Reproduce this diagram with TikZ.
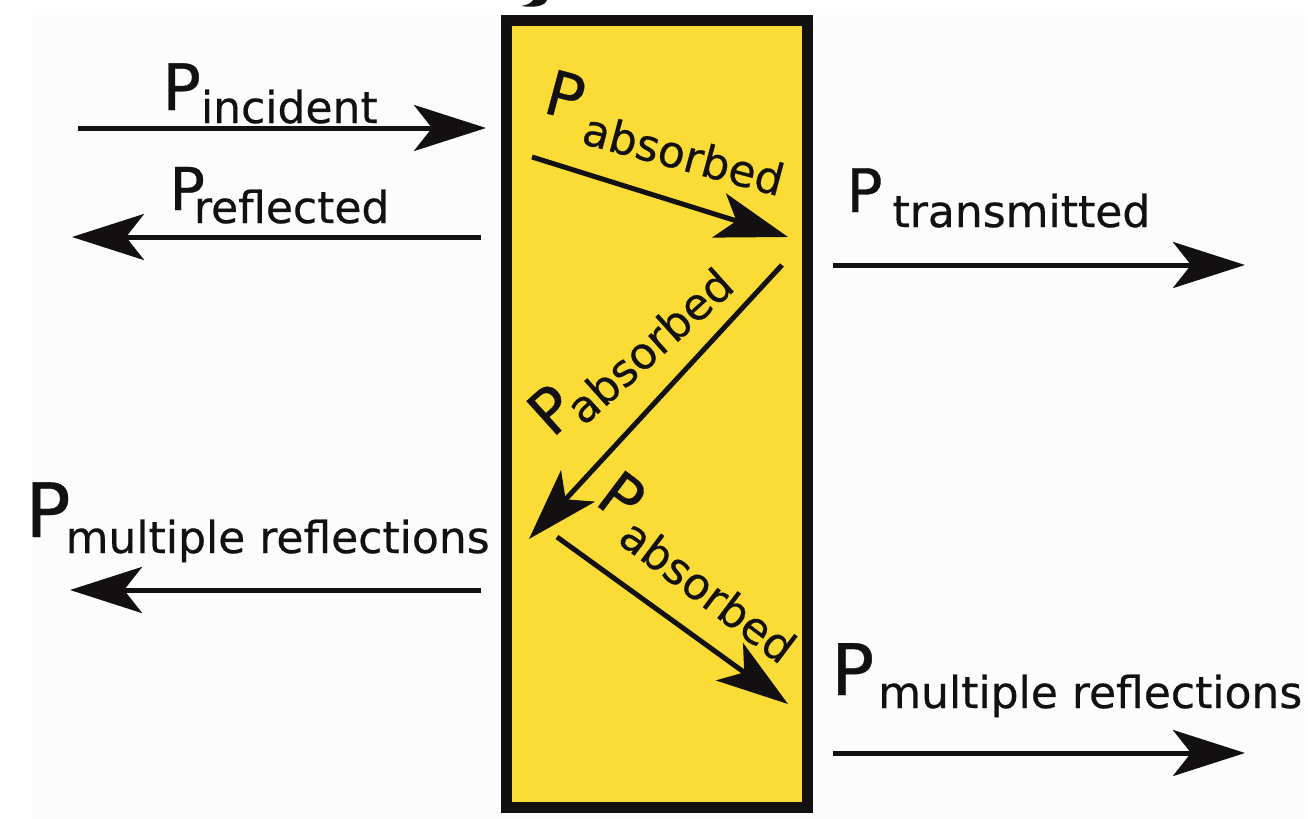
\documentclass[tikz,border=0pt]{standalone}
\usepackage{fontspec}
\setmainfont{DejaVu Sans}[FakeBold=0.5]
\usetikzlibrary{arrows.meta}
\definecolor{slab}{HTML}{FBDB35}
\definecolor{ink}{HTML}{121010}
\definecolor{panel}{HTML}{FCFCFC}
\newcommand{\plab}[4]{{\fontsize{#1}{#1}\selectfont P}\kern#2\raisebox{-#3}{\fontsize{22pt}{22pt}\selectfont #4}}
\begin{document}
\begin{tikzpicture}[x=0.5pt,y=-0.5pt,
  lab/.style={inner sep=0pt, anchor=base west, text=ink},
  arr/.style={draw=ink, line width=2.5pt, -{Stealth[length=36pt,width=23pt,inset=9pt]}}]
\useasboundingbox (0,0) rectangle (1308,819);
\fill[white] (0,0) rectangle (1308,819);
\fill[panel] (32,15) rectangle (1305,819);
% cut-off glyph at the top
\fill[ink] (533,0) -- (547,0) .. controls (545,6) and (535,8) .. (521,6) .. controls (528,5) and (531,3) .. cycle;
% slab
\node[draw=ink, fill=slab, line width=5.5pt, inner sep=0pt, minimum width=150.5pt, minimum height=393.5pt] (slab) at (657,414) {};
% endpoints
\coordinate (inA) at (78,128);   \coordinate (inB) at (486,128);
\coordinate (reA) at (481,237);  \coordinate (reB) at (72,237);
\coordinate (mlA) at (481,590);  \coordinate (mlB) at (70,590);
\coordinate (trA) at (833,265);  \coordinate (trB) at (1245,265);
\coordinate (mrA) at (833,753);  \coordinate (mrB) at (1245,753);
\coordinate (a1A) at (532,157);  \coordinate (a1B) at (788,237);
\coordinate (a2A) at (782,265);  \coordinate (a2B) at (529,539);
\coordinate (a3A) at (557,537);  \coordinate (a3B) at (788,704);
% arrows
\draw[arr] (inA) -- (inB);
\draw[arr] (reA) -- (reB);
\draw[arr] (mlA) -- (mlB);
\draw[arr] (trA) -- (trB);
\draw[arr] (mrA) -- (mrB);
\draw[arr] (a1A) -- (a1B);
\draw[arr] (a2A) -- (a2B);
\draw[arr] (a3A) -- (a3B);
% labels
\node[lab] (linc) at (162,110) {\plab{32pt}{0pt}{6.5pt}{incident}};
\node[lab] (lref) at (169,210) {\plab{29.5pt}{-5.5pt}{6.5pt}{reflected}};
\node[lab] (ltra) at (846,212) {\plab{30pt}{5pt}{7.5pt}{transmitted}};
\node[lab] (lmr) at (831,695) {\plab{35.5pt}{2pt}{6.5pt}{multiple reflections}};
\node[lab] (lml) at (25,537) {\plab{37.5pt}{-2.5pt}{8pt}{multiple reflections}};
\node[lab, rotate=-15] (lab1) at (541,112) {\plab{31pt}{4pt}{10pt}{absorbed}};
\node[lab, rotate=42] (lab2) at (552,439) {\plab{31pt}{-3pt}{6pt}{absorbed}};
\node[lab, rotate=-37] (lab3) at (593,503) {\plab{31pt}{2pt}{8.5pt}{absorbed}};
\end{tikzpicture}
\end{document}
